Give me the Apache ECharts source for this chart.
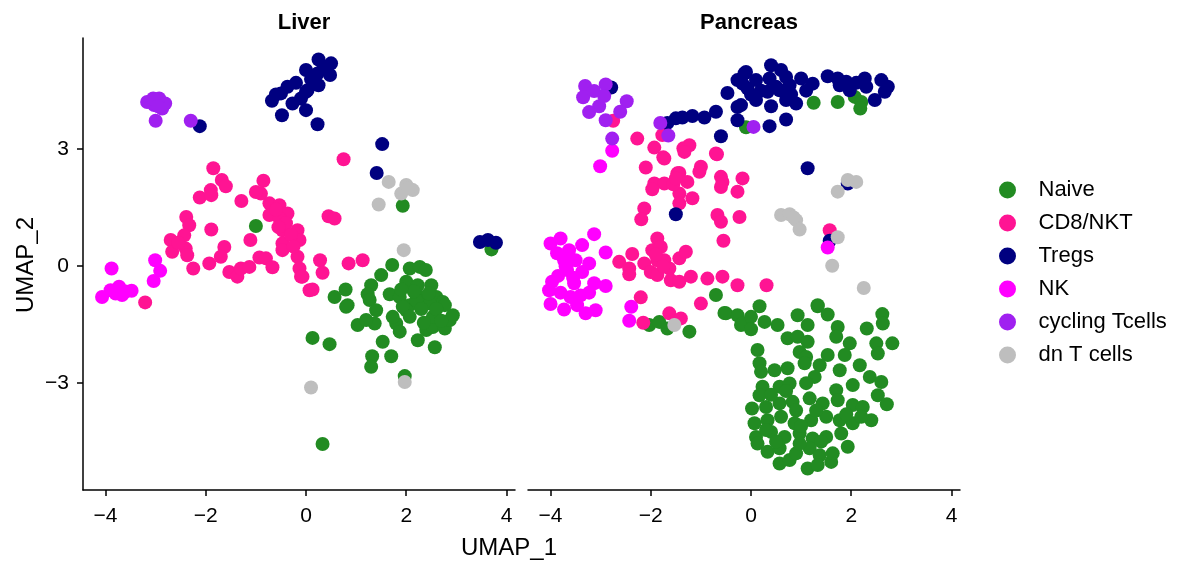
<!DOCTYPE html>
<html>
<head>
<meta charset="utf-8">
<script src="https://cdn.jsdelivr.net/npm/echarts@6/dist/echarts.min.js"></script>
<style>
  html, body { margin: 0; padding: 0; background: #fff; }
  #main { width: 1199px; height: 567px; }
</style>
</head>
<body>
<div id="main"></div>
<script>
var cellTypes = ['Naive', 'CD8/NKT', 'Tregs', 'NK', 'cycling Tcells', 'dn T cells'];
var typeColors = ['#228B22', '#FF1493', '#000080', '#FF00FF', '#A020F0', '#BEBEBE'];
var panelTitles = ['Liver', 'Pancreas'];
var xTicks = [-4, -2, 0, 2, 4];
var yTicks = [-3, 0, 3];

// Liver (UMAP_1, UMAP_2)
var liverNaive = [[-1.0,1.03],[1.93,1.55],[3.7,0.43],[1.72,0.03],[1.5,-0.23],[1.3,-0.49],[1.23,-0.72],[0.79,-0.6],[0.57,-0.79],
  [0.83,-1.0],[1.67,-0.72],[1.87,-0.79],[2.07,-0.06],[2.27,-0.02],[2.39,-0.1],[2.0,-0.4],[2.23,-0.49],[2.5,-0.49],[2.6,-0.79],
  [2.73,-0.92],[2.27,-0.79],[2.07,-1.0],[0.8,-1.04],[1.03,-1.51],[0.13,-1.84],[0.47,-2.0],[1.27,-0.87],[1.4,-1.13],[1.37,-1.47],
  [1.2,-1.38],[1.53,-1.94],[1.32,-2.31],[1.3,-2.58],[1.7,-2.31],[1.97,-2.82],[0.33,-4.56],[1.8,-1.47],[1.87,-1.68],[1.73,-1.3],
  [2.0,-1.13],[2.23,-1.9],[2.57,-2.08],[2.4,-1.64],[2.53,-1.56],[2.77,-1.6],[2.87,-1.38],[2.93,-1.26],[2.77,-1.0],[2.47,-0.96],
  [2.2,-0.87],[1.93,-1.04],[2.07,-1.3],[2.53,-1.3],[2.3,-1.1],[2.6,-1.1],[2.15,-0.65],[1.9,-0.6],[2.45,-0.7],[2.7,-1.4],[2.35,-1.45]];
var liverCD8 = [[-1.85,2.51],[-1.68,2.21],[-1.6,2.05],[-1.9,1.95],[-2.12,1.76],[-1.89,1.82],[-1.29,1.67],[-0.85,2.19],[-0.9,1.86],
  [-0.73,1.61],[-0.53,1.56],[-0.37,1.35],[-0.73,1.31],[-0.53,1.22],[-0.47,0.92],[-0.17,0.92],[-0.13,0.67],[-0.47,0.58],[-0.47,0.41],
  [-0.17,0.24],[-0.13,-0.06],[-0.1,-0.27],[0.07,-0.62],[-2.39,1.26],[-2.33,1.05],[-2.43,0.79],[-2.7,0.67],[-2.67,0.37],[-2.4,0.45],
  [-2.37,0.28],[-2.25,-0.06],[-1.89,0.94],[-1.63,0.49],[-1.7,0.24],[-1.93,0.07],[-1.53,-0.15],[-1.37,-0.27],[-1.3,-0.06],[-1.13,-0.02],
  [-0.93,0.22],[-0.8,0.2],[-0.67,-0.03],[-1.11,0.67],[-3.21,-0.93],[0.75,2.74],[0.45,1.28],[0.57,1.22],[0.28,0.15],[0.33,-0.17],
  [0.85,0.07],[1.13,0.15],[0.13,-0.6],[-0.07,-0.27],[-0.6,1.45],[-0.4,1.1],[-0.3,0.8],[-0.55,1.0],[-1.0,1.9],[-2.55,0.6],[-0.25,0.5]];
var liverTregs = [[-0.68,4.24],[-0.5,4.43],[-0.37,4.6],[-0.27,4.17],[-0.48,3.87],[0,4.0],[0,4.47],[0,5.03],[-2.12,3.59],[0.25,5.3],
  [0.5,5.2],[0.23,4.94],[0.48,4.9],[0.25,4.64],[0.03,4.51],[-0.1,4.3],[0.23,3.64],[1.52,3.13],[1.41,2.39],[-0.2,4.7],[0.1,4.8],
  [0.35,5.1],[-0.6,4.4],[3.47,0.62],[3.63,0.67],[3.79,0.6]];
var liverNK = [[-3.88,-0.06],[-3.01,0.15],[-2.91,-0.12],[-3.04,-0.38],[-4.07,-0.79],[-3.9,-0.62],[-3.73,-0.53],[-3.67,-0.74],
  [-3.48,-0.63],[-3.8,-0.7],[-3.6,-0.65]];
var liverCycling = [[-3.17,4.21],[-2.93,4.3],[-2.87,4.04],[-3.0,3.73],[-2.3,3.73],[-3.03,4.13],[-2.81,4.17],[-3.05,4.3],[-2.95,4.1]];
var liverDN = [[1.65,2.16],[2.0,2.08],[2.13,1.95],[1.9,1.86],[1.45,1.58],[1.95,0.41],[0.1,-3.11],[1.97,-2.97],[2.05,2.0]];

// Pancreas (UMAP_1, UMAP_2)
var pancNaive = [[1.25,4.19],[1.73,4.21],[2.07,4.34],[2.2,4.21],[2.18,4.04],[-0.1,3.56],
  [-0.7,-0.74],[-0.5,-1.21],[-0.27,-1.26],[-0.2,-1.51],[-2.03,-1.51],[-1.83,-1.43],[-1.67,-1.6],[-1.23,-1.68],
  [-0.53,-1.2],[-0.17,-1.47],[0,-1.3],[0.17,-1.03],[0,-1.62],[0.27,-1.43],[0.53,-1.51],[0.93,-1.26],[1.13,-1.51],[1.33,-1.03],
  [1.53,-1.24],[1.73,-1.56],[1.7,-1.81],[1.97,-1.98],[1.87,-2.28],[2.31,-1.6],[2.62,-1.23],[2.63,-1.47],[2.5,-1.98],[2.53,-2.24],
  [2.82,-1.98],[2.17,-2.54],[0.73,-1.85],[0.93,-1.81],[1.13,-1.94],[0.97,-2.2],[1.1,-2.33],[1.07,-2.49],[0.13,-2.15],[0.17,-2.49],
  [0.2,-2.71],[0.47,-2.67],[0.73,-2.62],[1.53,-2.28],[1.37,-2.54],[1.27,-2.84],[1.77,-2.67],[2.37,-2.84],[2.6,-2.97],[2.53,-3.31],
  [2.71,-3.54],[2.03,-3.05],[1.7,-3.18],[0.23,-3.09],[0.57,-3.09],[0.77,-3.01],[0.17,-3.31],[0.02,-3.65],[0.3,-3.61],[0.57,-3.52],
  [0.83,-3.48],[1.17,-3.39],[1.43,-3.52],[1.73,-3.44],[2.03,-3.56],[2.23,-3.61],[2.4,-3.95],[0.07,-4.03],[0.33,-3.95],[0.6,-3.86],
  [0.87,-4.03],[1.2,-3.95],[1.5,-3.86],[1.77,-3.95],[2.03,-4.03],[2.2,-3.86],[0.1,-4.38],[0.4,-4.25],[0.67,-4.38],[0.97,-4.29],
  [1.23,-4.42],[1.5,-4.38],[1.8,-4.29],[1.93,-4.63],[0.13,-4.55],[0.33,-4.76],[0.57,-4.67],[0.57,-5.06],[0.77,-4.97],[0.9,-4.8],
  [1.17,-4.67],[1.37,-4.85],[1.13,-5.19],[1.33,-5.1],[1.6,-5.02],[1.63,-4.8],[0.97,-4.55],[1.33,-1.0],[0.4,-3.3],[0.9,-3.7],
  [1.3,-3.7],[1.0,-4.1],[0.5,-4.5],[1.4,-4.5],[0.7,-3.2],[1.1,-3.0],[1.9,-3.8],[0.3,-4.2]];
var pancCD8 = [[-2.75,3.73],[-2.27,3.27],[-1.93,3.04],[-1.75,2.79],[-2.1,2.53],[-1.77,3.36],[-1.35,3.02],[-1.23,3.1],[-1.43,2.39],
  [-1.0,2.55],[-0.68,2.87],[-0.6,2.29],[-0.17,2.25],[-1.73,2.76],[-1.33,2.93],[-1.03,2.42],[-1.93,2.12],[-1.73,2.12],[-1.47,2.38],
  [-1.27,2.16],[-1.43,1.86],[-1.17,1.74],[-1.97,1.97],[-0.7,2.89],[-0.57,2.16],[-0.6,2.03],[-0.27,1.91],[-2.13,1.48],[-2.19,1.2],
  [-1.43,1.61],[-0.67,1.31],[-0.6,1.14],[-0.23,1.26],[-0.55,0.65],[-1.87,0.71],[-1.97,0.41],[-1.8,0.49],[-2.37,0.31],[-2.63,0.11],
  [-2.43,-0.06],[-2.43,-0.21],[-2.13,0.07],[-1.87,0.15],[-1.73,0.15],[-1.43,0.2],[-1.3,0.37],[-2.0,-0.15],[-1.87,-0.23],[-1.63,-0.06],
  [-1.6,-0.36],[-1.43,-0.4],[-1.2,-0.27],[-0.87,-0.32],[-0.57,-0.27],[-0.27,-0.49],[-1.0,-0.96],[-2.2,-0.8],[-1.63,-1.21],[-1.4,-1.34],
  [-2.15,-1.45],[1.57,0.92],[0.31,-0.49],[-1.55,2.1],[-1.9,0.3],[-1.75,0.0],[-1.5,2.25]];
var pancTregs = [[-1.67,3.67],[-1.5,3.79],[-1.37,3.81],[-1.17,3.85],[-0.93,3.81],[-0.7,3.96],[-0.47,4.44],[-0.27,4.77],[-0.13,4.94],
  [-0.27,4.08],[-0.27,3.74],[-0.6,3.33],[-0.1,4.98],[0.1,4.77],[-0.07,4.56],[-0.17,4.68],[0.4,5.15],[0.6,5.03],[0.37,4.81],[0.7,4.85],
  [0.77,4.64],[0.57,4.51],[0.33,4.47],[0.1,4.26],[0.4,4.1],[0.7,4.26],[0.9,4.17],[1.0,4.81],[1.23,4.68],[1.53,4.87],[1.73,4.81],
  [1.77,4.64],[1.9,4.73],[1.97,4.51],[2.27,4.81],[2.3,4.6],[2.47,4.26],[2.6,4.77],[2.73,4.6],[2.67,4.47],[-0.2,4.13],[0.37,3.59],
  [0.7,3.76],[1.13,2.51],[1.93,2.12],[1.57,0.65],[-1.5,1.33],[-2.79,4.58],[0.2,4.5],[0.5,4.6],[0.8,4.4],[0.0,4.4],[1.1,4.5],[2.1,4.7]];
var pancNK = [[-2.77,2.96],[-3.01,2.56],[-3.13,0.82],[-2.9,0.35],[-4.0,0.58],[-3.8,0.71],[-3.37,0.54],[-3.87,0.33],[-3.63,0.41],
  [-3.73,0.15],[-3.5,0.15],[-3.23,0.07],[-3.67,-0.1],[-3.37,-0.15],[-3.97,-0.4],[-3.53,-0.44],[-3.13,-0.44],[-2.9,-0.51],[-3.23,-0.68],
  [-4.03,-0.62],[-3.8,-0.68],[-3.6,-0.79],[-4.0,-0.97],[-3.73,-1.11],[-3.47,-1.0],[-3.3,-1.21],[-3.1,-1.13],[-2.39,-1.04],[-2.43,-1.4],
  [1.53,0.48],[-3.7,0.0],[-3.55,-0.3],[-3.85,-0.25],[-3.4,-0.75],[-3.65,0.3]];
var pancCycling = [[-3.31,4.62],[-3.35,4.33],[-3.13,4.49],[-2.9,4.66],[-3.03,4.1],[-3.23,3.95],[-2.93,4.36],[-2.48,4.23],[-2.61,3.96],
  [-2.9,3.74],[-2.77,3.27],[-1.81,3.67],[-1.65,3.35],[0.05,3.57]];
var pancDN = [[1.93,2.21],[2.1,2.16],[1.73,1.91],[0.6,1.31],[0.77,1.33],[0.9,1.18],[0.97,0.94],[1.73,0.74],[1.62,0.01],[2.25,-0.56],
  [-1.53,-1.51],[0.85,1.25]];

var liverSets = [liverNaive, liverCD8, liverTregs, liverNK, liverCycling, liverDN];
var pancSets = [pancNaive, pancCD8, pancTregs, pancNK, pancCycling, pancDN];

var fontFam = '"Liberation Sans", Arial, Helvetica, sans-serif';
function minusFmt(v) { return v < 0 ? '\u2212' + Math.abs(v) : String(v); }

var myChart = echarts.init(document.getElementById('main'));

var series = [];
[liverSets, pancSets].forEach(function (sets, p) {
  sets.forEach(function (pts, i) {
    series.push({
      name: cellTypes[i],
      type: 'scatter',
      xAxisIndex: p,
      yAxisIndex: p,
      symbolSize: 14,
      itemStyle: { color: typeColors[i], opacity: 1 },
      data: pts,
      animation: false
    });
  });
});

function xAxisFor(p) {
  return {
    type: 'value', gridIndex: p, min: -4.45, max: 4.17,
    splitLine: { show: false },
    axisLine: { onZero: false, lineStyle: { color: '#000', width: 1.5 } },
    axisTick: { customValues: xTicks, length: 6, lineStyle: { color: '#000', width: 1.5 } },
    axisLabel: { customValues: xTicks, formatter: minusFmt, color: '#000', fontSize: 21, fontFamily: fontFam, margin: 16 }
  };
}
function yAxisFor(p) {
  return {
    type: 'value', gridIndex: p, min: -5.74, max: 5.85, show: p === 0,
    splitLine: { show: false },
    axisLine: { onZero: false, lineStyle: { color: '#000', width: 1.5 } },
    axisTick: { customValues: yTicks, length: 6, lineStyle: { color: '#000', width: 1.5 } },
    axisLabel: { customValues: yTicks, formatter: minusFmt, color: '#000', fontSize: 21, fontFamily: fontFam, margin: 14 }
  };
}

var option = {
  backgroundColor: '#fff',
  title: panelTitles.map(function (t, p) {
    return {
      text: t, left: p === 0 ? 299 : 744, top: 7, textAlign: 'center',
      textStyle: { fontSize: 22, fontWeight: 'bold', color: '#000', fontFamily: fontFam }
    };
  }),
  legend: {
    data: cellTypes, orient: 'vertical', left: 994, top: 174,
    icon: 'circle', itemWidth: 52, itemHeight: 17, itemGap: 11,
    textStyle: { fontSize: 22, color: '#000', fontFamily: fontFam },
    selectedMode: false
  },
  grid: [
    { left: 83, top: 38, width: 432, height: 452 },
    { left: 528, top: 38, width: 432, height: 452 }
  ],
  xAxis: [xAxisFor(0), xAxisFor(1)],
  yAxis: [yAxisFor(0), yAxisFor(1)],
  graphic: [
    { type: 'text', left: 461, top: 536, style: { text: 'UMAP_1', fontSize: 24, fill: '#000', fontFamily: fontFam } },
    { type: 'text', x: 26, y: 265, rotation: Math.PI / 2,
      style: { text: 'UMAP_2', fontSize: 24, fill: '#000', fontFamily: fontFam, align: 'center', verticalAlign: 'middle' } }
  ],
  series: series
};

myChart.setOption(option);
</script>
</body>
</html>
